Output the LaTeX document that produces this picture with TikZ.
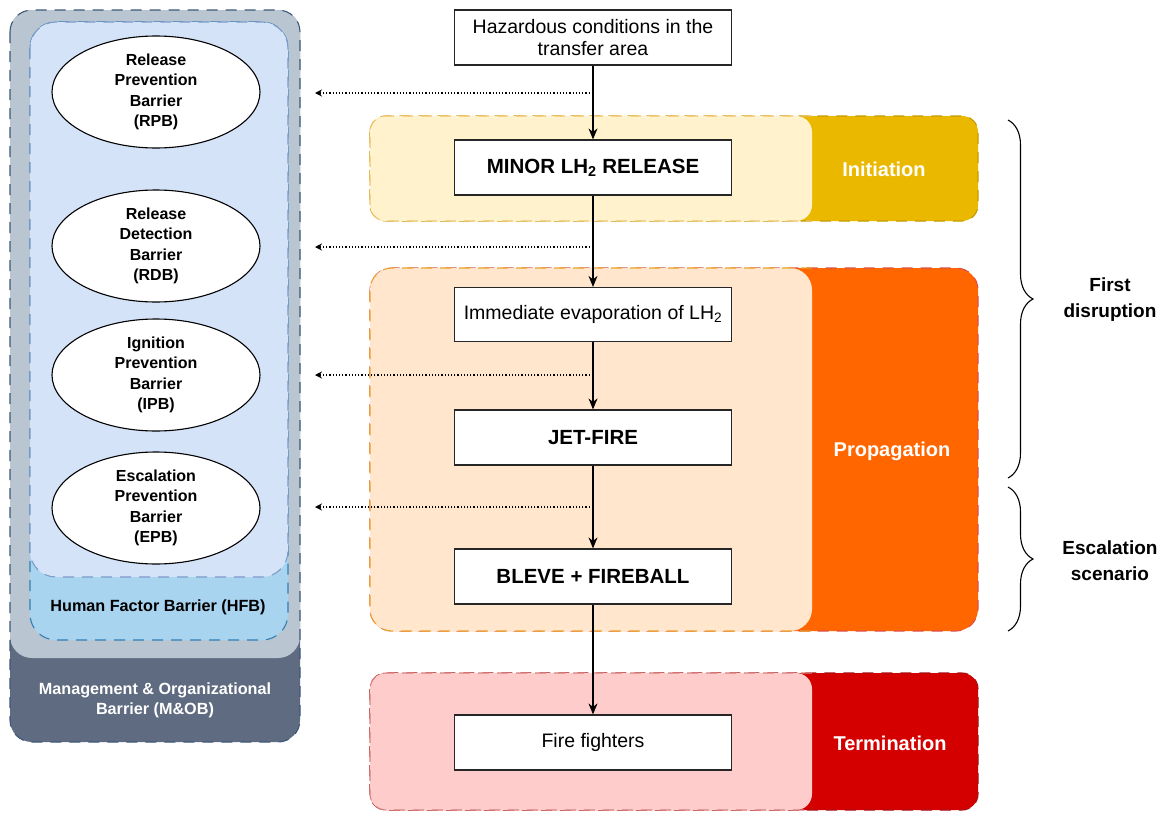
\documentclass[tikz,border=0pt]{standalone}
\usepackage{fontspec}
\setmainfont{Liberation Sans}
\usetikzlibrary{arrows.meta,shapes.geometric,decorations.pathreplacing}

% barrier panel
\definecolor{mobfill}{HTML}{5F6B80}
\definecolor{mobline}{HTML}{3E5877}
\definecolor{grayfill}{HTML}{B9C5D0}
\definecolor{hfbfill}{HTML}{A8D4F0}
\definecolor{hfbline}{HTML}{2F7FB5}
\definecolor{innerfill}{HTML}{D5E3F8}
\definecolor{innerline}{HTML}{7A9CC8}
% phase bands
\definecolor{iniLight}{HTML}{FFF2CC}
\definecolor{iniDark}{HTML}{EBB800}
\definecolor{iniLightLine}{HTML}{EEC46C}
\definecolor{iniDarkLine}{HTML}{C59A00}
\definecolor{proLight}{HTML}{FFE6CC}
\definecolor{proDark}{HTML}{FF6600}
\definecolor{proLightLine}{HTML}{EBA228}
\definecolor{proDarkLine}{HTML}{DD5048}
\definecolor{terLight}{HTML}{FFCCCC}
\definecolor{terDark}{HTML}{D40000}
\definecolor{terLightLine}{HTML}{D88080}
\definecolor{terDarkLine}{HTML}{A81010}

\begin{document}
\begin{tikzpicture}[x=1pt,y=-1pt,
  dashline/.style={dash pattern=on 11pt off 8pt, line width=1.1pt},
  stepbox/.style={draw=black!85, line width=1.2pt, fill=white,
    minimum width=277pt, minimum height=55pt, inner sep=2pt, align=center,
    font=\fontsize{19.5}{22}\selectfont},
  boldbox/.style={stepbox, font=\fontsize{20.5}{24}\selectfont\bfseries},
  barrier/.style={ellipse, draw=black, line width=1.1pt, fill=white,
    minimum width=208pt, minimum height=112pt, inner sep=0pt, align=center,
    font=\fontsize{16}{20.5}\selectfont\bfseries},
  flow/.style={-{Stealth[length=11pt,width=9pt]}, line width=1.1pt},
  check/.style={dash pattern=on 1.2pt off 2pt, line width=1.1pt,
    -{Stealth[length=7pt,width=7pt]}},
  phase/.style={text=white, font=\fontsize{20}{24}\selectfont\bfseries},
  panellabel/.style={align=center, font=\fontsize{16.2}{20}\selectfont\bfseries},
  bracelabel/.style={align=center, font=\fontsize{19}{26}\selectfont\bfseries},
  curly/.style={decorate, decoration={brace, amplitude=25pt}, line width=1.1pt},
]
\useasboundingbox (0,0) rectangle (1168,814);

% ---------- barrier layers ----------
\fill[mobfill, rounded corners=22pt] (10,10) rectangle (300,742);
\fill[grayfill, rounded corners=22pt] (10,10) rectangle (300,658);
\draw[mobline, dashline, rounded corners=22pt] (10,10) rectangle (300,742);
\filldraw[fill=hfbfill, draw=hfbline, dashline, rounded corners=26pt] (30,22) rectangle (288,640);
\filldraw[fill=innerfill, draw=innerline, dashline, rounded corners=26pt] (30,22) rectangle (288,577);

\node[panellabel] (hfb) at (158,607) {Human Factor Barrier (HFB)};
\node[panellabel, text=white] (mob) at (155,700) {Management \& Organizational\\Barrier (M\&OB)};

\node[barrier] (rpb) at (156,92)  {Release\\Prevention\\Barrier\\(RPB)};
\node[barrier] (rdb) at (156,246) {Release\\Detection\\Barrier\\(RDB)};
\node[barrier] (ipb) at (156,375) {Ignition\\Prevention\\Barrier\\(IPB)};
\node[barrier] (epb) at (156,508) {Escalation\\Prevention\\Barrier\\(EPB)};

% ---------- phase bands ----------
% initiation
\fill[iniDark, rounded corners=16pt] (370,116) rectangle (978,221);
\draw[iniDarkLine, dashline, rounded corners=16pt] (370,116) rectangle (978,221);
\fill[iniLight, rounded corners=16pt] (370,116) rectangle (812,221);
\draw[iniLightLine, dashline, rounded corners=16pt] (812,116) -- (370,116) -- (370,221) -- (812,221);
\node[phase] (ini) at (884,169) {Initiation};

% propagation
\fill[proDark, rounded corners=22pt] (370,268) rectangle (978,631);
\draw[proDarkLine, dashline, rounded corners=22pt] (370,268) rectangle (978,631);
\fill[proLight, rounded corners=22pt] (370,268) rectangle (812,631);
\draw[proLightLine, dashline, rounded corners=22pt] (812,268) -- (370,268) -- (370,631) -- (812,631);
\node[phase] (pro) at (892,451) {Propagation};

% termination
\fill[terDark, rounded corners=16pt] (370,673) rectangle (978,810);
\draw[terDarkLine, dashline, rounded corners=16pt] (370,673) rectangle (978,810);
\fill[terLight, rounded corners=16pt] (370,673) rectangle (812,810);
\draw[terLightLine, dashline, rounded corners=16pt] (812,673) -- (370,673) -- (370,810) -- (812,810);
\node[phase] (ter) at (890,743) {Termination};

% ---------- event chain ----------
\node[stepbox] (haz) at (593,37.5) {Hazardous conditions in the\\transfer area};
\node[boldbox] (minor) at (593,167.5) {MINOR LH\textsubscript{2} RELEASE};
\node[stepbox, minimum height=54pt] (evap) at (593,314.5) {Immediate evaporation of LH\textsubscript{2}};
\node[boldbox] (jet) at (593,437.5) {JET-FIRE};
\node[boldbox] (bleve) at (593,576.5) {BLEVE + FIREBALL};
\node[stepbox] (fire) at (593,742.5) {Fire fighters};

\draw[flow] (haz) -- (minor);
\draw[flow] (minor) -- (evap);
\draw[flow] (evap) -- (jet);
\draw[flow] (jet) -- (bleve);
\draw[flow] (bleve) -- (fire);

% barrier checks on the chain
\coordinate (s1) at (593,93);  \coordinate (e1) at (315,93);
\coordinate (s2) at (593,247); \coordinate (e2) at (315,247);
\coordinate (s3) at (593,375); \coordinate (e3) at (315,375);
\coordinate (s4) at (593,507); \coordinate (e4) at (315,507);
\draw[check] (s1) -- (e1);
\draw[check] (s2) -- (e2);
\draw[check] (s3) -- (e3);
\draw[check] (s4) -- (e4);

% ---------- scenario braces ----------
\coordinate (f1) at (1008,120); \coordinate (f2) at (1008,478);
\coordinate (g1) at (1008,487); \coordinate (g2) at (1008,631);
\draw[curly] (f1) -- (f2);
\draw[curly] (g1) -- (g2);
\node[bracelabel] (first) at (1110,300) {First\\disruption};
\node[bracelabel] (esc) at (1110,561) {Escalation\\scenario};
\end{tikzpicture}
\end{document}
